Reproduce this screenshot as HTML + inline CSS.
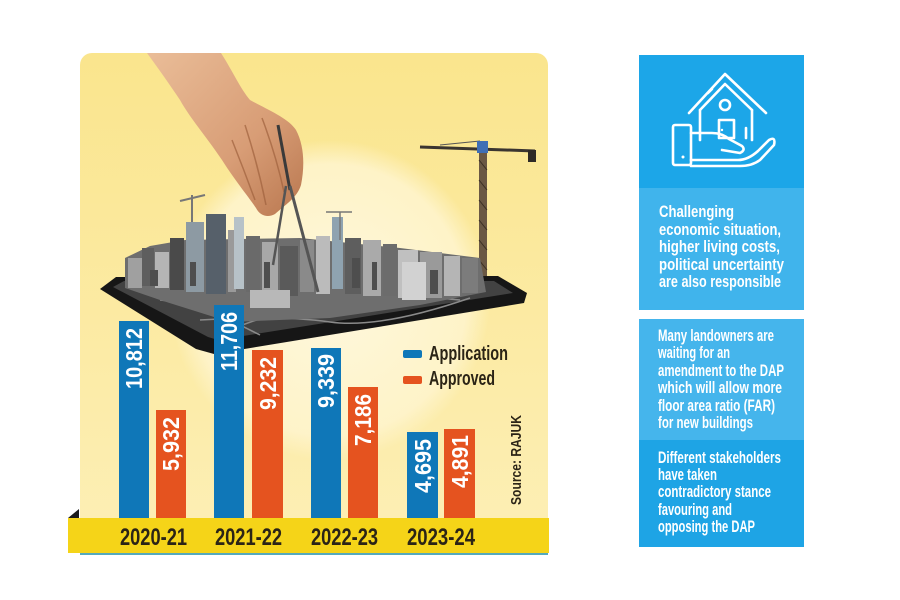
<!DOCTYPE html>
<html><head><meta charset="utf-8"><style>
html,body{margin:0;padding:0;background:#fff;}
svg{display:block}
text{font-family:"Liberation Sans",sans-serif;}
</style></head><body>
<svg width="900" height="600" viewBox="0 0 900 600" xmlns="http://www.w3.org/2000/svg">
<defs>
<linearGradient id="bg" x1="0" y1="0" x2="0" y2="1">
<stop offset="0" stop-color="#fae58d"/>
<stop offset="1" stop-color="#fdefb6"/>
</linearGradient>
<radialGradient id="glow" cx="330" cy="300" r="160" gradientUnits="userSpaceOnUse">
<stop offset="0" stop-color="#fff8de" stop-opacity="1"/>
<stop offset="0.85" stop-color="#fef4cc" stop-opacity="0.9"/>
<stop offset="1" stop-color="#fef4cc" stop-opacity="0"/>
</radialGradient>
<linearGradient id="skin" x1="0" y1="0" x2="1" y2="1">
<stop offset="0" stop-color="#eabd98"/>
<stop offset="0.6" stop-color="#d89d76"/>
<stop offset="1" stop-color="#b9774f"/>
</linearGradient>
</defs>

<rect x="80" y="53" width="468" height="498" rx="12" fill="url(#bg)"/>
<circle cx="330" cy="300" r="160" fill="url(#glow)"/>

<!-- right crane -->
<line x1="420" y1="147" x2="535" y2="151" stroke="#3a3530" stroke-width="3"/>
<line x1="440" y1="145" x2="480" y2="141" stroke="#555" stroke-width="1"/>
<rect x="528" y="150" width="8" height="12" fill="#2e2a26"/>
<rect x="479" y="150" width="8" height="142" fill="#6a5844"/>
<g stroke="#3a2e22" stroke-width="1">
<line x1="479" y1="160" x2="487" y2="170"/><line x1="479" y1="180" x2="487" y2="190"/>
<line x1="479" y1="200" x2="487" y2="210"/><line x1="479" y1="220" x2="487" y2="230"/>
<line x1="479" y1="240" x2="487" y2="250"/><line x1="479" y1="260" x2="487" y2="270"/>
</g>
<rect x="477" y="141" width="11" height="12" fill="#3f6fb5"/>

<line x1="192" y1="195" x2="192" y2="240" stroke="#777" stroke-width="2"/>
<line x1="180" y1="201" x2="205" y2="195" stroke="#777" stroke-width="2"/>

<!-- tablet -->
<polygon points="100,289 116,277 498,276 527,293 524,303 214,354 196,349" fill="#161616"/>
<polygon points="113,287 124,281 494,281 513,293 218,340 208,337" fill="#424242"/>
<g stroke="#8a8a8a" stroke-width="1.5" fill="none">
<path d="M160,300 Q240,310 300,300 T460,300"/>
<path d="M200,320 Q280,315 330,322 T470,298"/>
<path d="M230,330 Q300,300 360,310"/>
<path d="M180,295 L260,335"/>
</g>

<!-- city -->
<polygon points="125,288 125,258 150,246 185,240 300,238 400,248 480,258 486,292 420,305 330,318 230,322 160,300" fill="#6e6e6e"/>
<rect x="128" y="258" width="14" height="30" fill="#a0a0a0"/>
<rect x="142" y="248" width="12" height="38" fill="#5e5e5e"/>
<rect x="155" y="252" width="14" height="36" fill="#b5b5b5"/>
<rect x="170" y="238" width="14" height="52" fill="#4a4a4a"/>
<rect x="186" y="222" width="18" height="70" fill="#8d9aa3"/>
<rect x="206" y="214" width="20" height="80" fill="#56606a"/>
<rect x="228" y="230" width="8" height="62" fill="#9a9a9a"/>
<rect x="234" y="217" width="10" height="72" fill="#b7c2c8"/>
<rect x="246" y="236" width="14" height="56" fill="#6a6a6a"/>
<rect x="262" y="242" width="16" height="50" fill="#a8a8a8"/>
<rect x="280" y="246" width="18" height="50" fill="#5a5a5a"/>
<rect x="300" y="240" width="14" height="52" fill="#8a8a8a"/>
<rect x="316" y="236" width="14" height="58" fill="#bbbbbb"/>
<rect x="332" y="217" width="11" height="72" fill="#8fa3b0"/>
<rect x="345" y="238" width="16" height="56" fill="#5e5e5e"/>
<rect x="363" y="240" width="18" height="56" fill="#aaaaaa"/>
<rect x="383" y="244" width="14" height="52" fill="#6c6c6c"/>
<rect x="398" y="250" width="20" height="48" fill="#c0c0c0"/>
<rect x="420" y="252" width="22" height="46" fill="#9a9a9a"/>
<rect x="444" y="256" width="16" height="40" fill="#b5b5b5"/>
<rect x="462" y="258" width="16" height="35" fill="#7c7c7c"/>
<rect x="402" y="262" width="24" height="38" fill="#d2d2d2"/>
<rect x="250" y="290" width="40" height="18" fill="#b8b8b8"/>
<g fill="#4e4e4e">
<rect x="150" y="270" width="8" height="16"/><rect x="190" y="262" width="6" height="24"/>
<rect x="264" y="262" width="6" height="26"/><rect x="352" y="258" width="8" height="30"/>
<rect x="430" y="270" width="8" height="24"/><rect x="372" y="262" width="5" height="28"/>
</g>
<line x1="340" y1="212" x2="340" y2="240" stroke="#777" stroke-width="1.5"/>
<line x1="326" y1="212" x2="352" y2="212" stroke="#777" stroke-width="1.5"/>

<!-- hand -->
<path d="M147,53 L221,53 C232,70 240,88 250,100 C268,110 288,118 296,130 C304,145 305,165 301,185 C297,198 285,205 275,214 C268,218 260,216 256,208 C248,196 236,182 222,160 C205,135 190,118 180,100 C170,85 158,68 147,53 Z" fill="url(#skin)"/>
<g stroke="#a0623e" stroke-width="1.5" fill="none" opacity="0.7">
<path d="M245,125 Q258,165 266,205"/>
<path d="M262,118 Q276,155 284,192"/>
<path d="M232,140 Q244,170 255,200"/>
</g>
<line x1="278" y1="125" x2="290" y2="190" stroke="#3a3a3a" stroke-width="3"/>
<line x1="286" y1="186" x2="273" y2="265" stroke="#555" stroke-width="2.5"/>
<line x1="290" y1="186" x2="318" y2="292" stroke="#555" stroke-width="3"/>

<!-- bars -->
<rect x="119" y="321" width="30" height="197" fill="#0f77b8"/>
<rect x="156" y="410" width="30" height="108" fill="#e5531f"/>
<rect x="214" y="305" width="30" height="213" fill="#0f77b8"/>
<rect x="252" y="350" width="31" height="168" fill="#e5531f"/>
<rect x="311" y="348" width="30" height="170" fill="#0f77b8"/>
<rect x="348" y="387" width="30" height="131" fill="#e5531f"/>
<rect x="407" y="432" width="31" height="86" fill="#0f77b8"/>
<rect x="444" y="429" width="31" height="89" fill="#e5531f"/>

<g fill="#ffffff" font-size="23" font-weight="bold" text-anchor="end">
<text transform="translate(142,328) rotate(-90)" textLength="61" lengthAdjust="spacingAndGlyphs">10,812</text>
<text transform="translate(179,417) rotate(-90)" textLength="54" lengthAdjust="spacingAndGlyphs">5,932</text>
<text transform="translate(237,312) rotate(-90)" textLength="59" lengthAdjust="spacingAndGlyphs">11,706</text>
<text transform="translate(276,357) rotate(-90)" textLength="53" lengthAdjust="spacingAndGlyphs">9,232</text>
<text transform="translate(334,354) rotate(-90)" textLength="54" lengthAdjust="spacingAndGlyphs">9,339</text>
<text transform="translate(371,394) rotate(-90)" textLength="52" lengthAdjust="spacingAndGlyphs">7,186</text>
<text transform="translate(431,439) rotate(-90)" textLength="54" lengthAdjust="spacingAndGlyphs">4,695</text>
<text transform="translate(468,435) rotate(-90)" textLength="53" lengthAdjust="spacingAndGlyphs">4,891</text>
</g>

<polygon points="68,518 79,509 79,518" fill="#1b1b1b"/>
<rect x="68" y="518" width="481" height="35" fill="#f5d418"/>
<rect x="80" y="553" width="468" height="2" fill="#55a9bb"/>
<g fill="#2b2416" font-size="24" font-weight="bold" text-anchor="middle">
<text x="153.5" y="545" textLength="67" lengthAdjust="spacingAndGlyphs">2020-21</text>
<text x="248.5" y="545" textLength="67" lengthAdjust="spacingAndGlyphs">2021-22</text>
<text x="344.5" y="545" textLength="67" lengthAdjust="spacingAndGlyphs">2022-23</text>
<text x="441" y="545" textLength="68" lengthAdjust="spacingAndGlyphs">2023-24</text>
</g>

<rect x="403" y="350" width="19" height="8" rx="2" fill="#0f77b8"/>
<rect x="403" y="376" width="19" height="8" rx="2" fill="#e5531f"/>
<g fill="#2b2416" font-size="20" font-weight="bold">
<text x="429" y="360" textLength="79" lengthAdjust="spacingAndGlyphs">Application</text>
<text x="429" y="385" textLength="66" lengthAdjust="spacingAndGlyphs">Approved</text>
</g>
<text transform="translate(521,505) rotate(-90)" fill="#2b2416" font-size="15" font-weight="bold" textLength="90" lengthAdjust="spacingAndGlyphs">Source: RAJUK</text>

<!-- right panels -->
<rect x="639" y="55" width="165" height="133" fill="#1ca6e8"/>
<rect x="639" y="188" width="165" height="122" fill="#40b4ec"/>
<rect x="639" y="319" width="165" height="121" fill="#45b5ec"/>
<rect x="639" y="440" width="165" height="107" fill="#1ea4e5"/>

<g stroke="#ffffff" stroke-width="2.6" fill="none" stroke-linecap="round" stroke-linejoin="round">
<polyline points="689,113 725,74 766,113"/>
<polyline points="700,110 725,84 752,110"/>
<line x1="708" y1="93" x2="712" y2="89"/>
<line x1="700" y1="110" x2="700" y2="140"/>
<line x1="752" y1="110" x2="752" y2="140"/>
<circle cx="725" cy="105" r="5"/>
<rect x="719" y="120" width="15" height="18"/>
<line x1="746" y1="128" x2="746" y2="138"/>
<rect x="673" y="125" width="18" height="40" rx="2"/>
<path d="M691,133 L712,133 Q722,133 729,139 L742,146 Q746,150 740,153 L722,150"/>
<path d="M691,160 L738,160 Q748,160 758,151 L769,140 Q776,136 774,145 L760,160 Q752,166 740,166 L691,166"/>
</g>
<circle cx="683" cy="157" r="1.5" fill="#fff"/>
<circle cx="722" cy="130" r="1.2" fill="#fff"/>

<g fill="#ffffff" font-size="16.5" font-weight="bold">
<text x="659" y="217" textLength="75" lengthAdjust="spacingAndGlyphs">Challenging</text>
<text x="659" y="235" textLength="122" lengthAdjust="spacingAndGlyphs">economic situation,</text>
<text x="659" y="252" textLength="121" lengthAdjust="spacingAndGlyphs">higher living costs,</text>
<text x="659" y="270" textLength="125" lengthAdjust="spacingAndGlyphs">political uncertainty</text>
<text x="659" y="287" textLength="122" lengthAdjust="spacingAndGlyphs">are also responsible</text>

<text x="658" y="341" textLength="116" lengthAdjust="spacingAndGlyphs">Many landowners are</text>
<text x="658" y="358" textLength="72" lengthAdjust="spacingAndGlyphs">waiting for an</text>
<text x="658" y="376" textLength="126" lengthAdjust="spacingAndGlyphs">amendment to the DAP</text>
<text x="658" y="393" textLength="124" lengthAdjust="spacingAndGlyphs">which will allow more</text>
<text x="658" y="411" textLength="117" lengthAdjust="spacingAndGlyphs">floor area ratio (FAR)</text>
<text x="658" y="428" textLength="95" lengthAdjust="spacingAndGlyphs">for new buildings</text>

<text x="658" y="463" textLength="123" lengthAdjust="spacingAndGlyphs">Different stakeholders</text>
<text x="658" y="480" textLength="59" lengthAdjust="spacingAndGlyphs">have taken</text>
<text x="658" y="497" textLength="113" lengthAdjust="spacingAndGlyphs">contradictory stance</text>
<text x="658" y="515" textLength="74" lengthAdjust="spacingAndGlyphs">favouring and</text>
<text x="658" y="532" textLength="97" lengthAdjust="spacingAndGlyphs">opposing the DAP</text>
</g>
</svg>
</body></html>
